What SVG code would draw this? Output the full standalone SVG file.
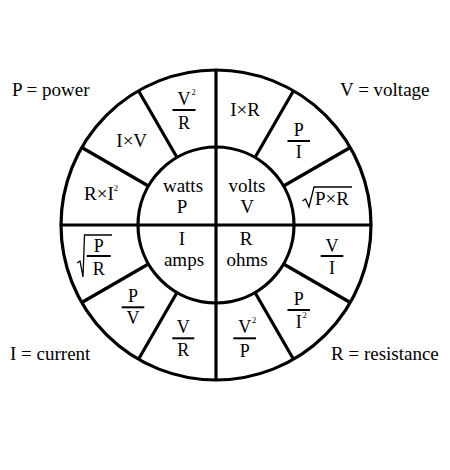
<svg xmlns="http://www.w3.org/2000/svg" width="450" height="470" viewBox="0 0 450 470">
<style>
text{font-family:"Liberation Serif","Times New Roman",serif;fill:#000}
.t{font-size:19px}
.c{text-anchor:middle}
.f{font-size:18px;text-anchor:middle}
.sup{font-size:8.5px}
.w{fill:none;stroke:#000;stroke-width:3.2}
.bar{stroke:#000;stroke-width:2}
.rad{fill:none;stroke:#000;stroke-width:1.3}
</style>
<rect width="450" height="470" fill="#fff"/>
<g id="wheel">
<circle class="w" cx="216" cy="225" r="155"/>
<circle class="w" cx="216" cy="225" r="78"/>
<path class="w" d="M61,225H371M216,70V380
M283.55,186L350.23,147.5M255,157.45L293.5,90.77
M177,157.45L138.5,90.77M148.45,186L81.77,147.5
M148.45,264L81.77,302.5M177,292.55L138.5,359.23
M255,292.55L293.5,359.23M283.55,264L350.23,302.5"/>
</g>
<g id="legend-p"><text class="t" x="12" y="96">P = power</text></g>
<g id="legend-v"><text class="t" x="340" y="96">V = voltage</text></g>
<g id="legend-i"><text class="t" x="10" y="360">I = current</text></g>
<g id="legend-r"><text class="t" x="331" y="360">R = resistance</text></g>
<g id="inner-p"><text class="t c" x="183" y="192">watts</text><text class="t c" x="182" y="213">P</text></g>
<g id="inner-v"><text class="t c" x="247" y="192">volts</text><text class="t c" x="247" y="213">V</text></g>
<g id="inner-i"><text class="t c" x="182" y="245">I</text><text class="t c" x="184" y="266">amps</text></g>
<g id="inner-r"><text class="t c" x="246" y="245">R</text><text class="t c" x="247" y="266">ohms</text></g>
<g id="seg-ixr"><text class="t c" x="245" y="116">I×R</text></g>
<g id="seg-p-over-i"><text class="f" x="298.7" y="136">P</text><line class="bar" x1="287.5" y1="141" x2="310" y2="141"/><text class="f" x="298.7" y="158">I</text></g>
<g id="seg-sqrt-pxr"><path class="rad" d="M302.5,201L305.5,199L309,207L314,187H352"/><text class="t" x="315" y="205">P×R</text></g>
<g id="seg-v-over-i"><text class="f" x="332" y="251.5">V</text><line class="bar" x1="320.7" y1="256" x2="343.3" y2="256"/><text class="f" x="332" y="273.5">I</text></g>
<g id="seg-p-over-i2"><text class="f" x="298.7" y="305">P</text><line class="bar" x1="287.5" y1="310" x2="310" y2="310"/><text class="f" x="298.7" y="328">I</text><text class="sup" x="302.5" y="318">2</text></g>
<g id="seg-v2-over-p"><text class="f" x="244.7" y="333.3">V</text><text class="sup" x="252" y="323">2</text><line class="bar" x1="233.3" y1="338.3" x2="256" y2="338.3"/><text class="f" x="244.7" y="357">P</text></g>
<g id="seg-v-over-r"><text class="f" x="183.3" y="333.3">V</text><line class="bar" x1="172.3" y1="338.3" x2="194.3" y2="338.3"/><text class="f" x="183.3" y="355.5">R</text></g>
<g id="seg-p-over-v"><text class="f" x="133" y="302">P</text><line class="bar" x1="121.7" y1="307.3" x2="144.3" y2="307.3"/><text class="f" x="133" y="324">V</text></g>
<g id="seg-sqrt-p-over-r"><path class="rad" d="M77,263L80,261L83,277L84.5,235H112"/><text class="f" x="98.7" y="251.5">P</text><line class="bar" x1="86.7" y1="256" x2="110.7" y2="256"/><text class="f" x="98.7" y="275">R</text></g>
<g id="seg-rxi2"><text class="t" x="84" y="200">R×I<tspan class="sup" dy="-9">2</tspan></text></g>
<g id="seg-ixv"><text class="t c" x="131.7" y="147">I×V</text></g>
<g id="seg-v2-over-r"><text class="f" x="184" y="105">V</text><text class="sup" x="191.5" y="95">2</text><line class="bar" x1="172.5" y1="110" x2="195.5" y2="110"/><text class="f" x="184" y="129">R</text></g>
</svg>
